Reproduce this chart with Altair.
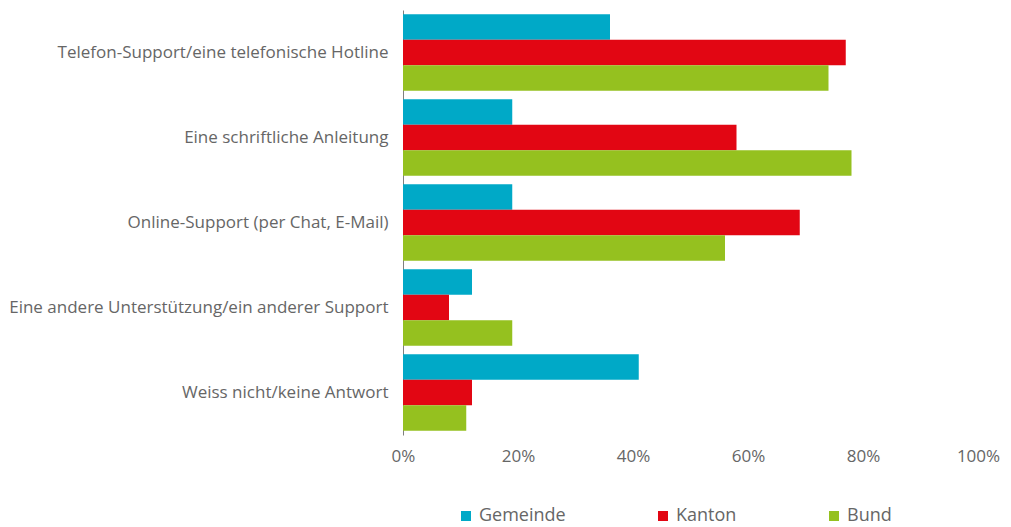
import altair as alt
import pandas as pd

categories = [
    "Telefon-Support/eine telefonische Hotline",
    "Eine schriftliche Anleitung",
    "Online-Support (per Chat, E-Mail)",
    "Eine andere Unterstützung/ein anderer Support",
    "Weiss nicht/keine Antwort",
]
series = ["Gemeinde", "Kanton", "Bund"]
gemeinde = [0.36, 0.19, 0.19, 0.12, 0.41]
kanton = [0.77, 0.58, 0.69, 0.08, 0.12]
bund = [0.74, 0.78, 0.56, 0.19, 0.11]
colors = ["#00A9C7", "#E20613", "#95C11F"]
x_ticks = [0, 0.2, 0.4, 0.6, 0.8, 1.0]

rows = []
for name, vals in zip(series, [gemeinde, kanton, bund]):
    for c, v in zip(categories, vals):
        rows.append({"Kategorie": c, "Ebene": name, "Wert": v})
df = pd.DataFrame(rows)

FONT = "Open Sans"
TXT = "#666666"

chart = alt.Chart(df).mark_bar().encode(
    y=alt.Y("Kategorie:N", sort=categories, title=None,
            scale=alt.Scale(paddingInner=0.1, paddingOuter=0.05),
            axis=alt.Axis(domain=True, domainColor="#7f7f7f", domainWidth=1,
                          ticks=False, labelPadding=15, labelFontSize=17,
                          labelColor=TXT, labelFont=FONT, labelLimit=500)),
    yOffset=alt.YOffset("Ebene:N", sort=series, scale=alt.Scale(paddingInner=0, paddingOuter=0)),
    x=alt.X("Wert:Q", title=None,
            scale=alt.Scale(domain=[0, 1]),
            axis=alt.Axis(values=x_ticks, format=".0%", domain=False, ticks=False,
                          grid=False, labelPadding=13, labelFontSize=17,
                          labelColor=TXT, labelFont=FONT,
                          labelFlush=False)),
    color=alt.Color("Ebene:N", sort=series,
                    scale=alt.Scale(domain=series, range=colors),
                    legend=alt.Legend(title=None, orient="none", direction="horizontal",
                                      legendX=54, legendY=497,
                                      symbolType="square", symbolSize=100,
                                      symbolStrokeWidth=0, symbolOpacity=1,
                                      labelFontSize=18, labelColor=TXT,
                                      labelFont=FONT, columnPadding=88,
                                      labelOffset=4)),
).properties(
    width=575, height=425,
    autosize=alt.AutoSizeParams(type="none"),
    padding={"left": 395, "top": 2, "right": 24, "bottom": 92},
).configure_view(stroke=None)

chart.save("out.html", embed_options={"renderer": "svg", "actions": False})
